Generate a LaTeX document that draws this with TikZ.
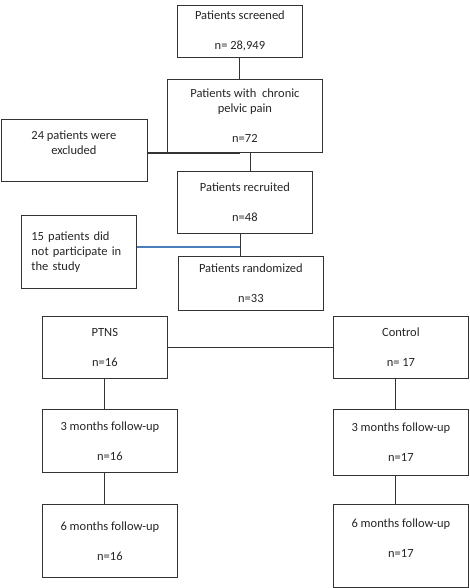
\documentclass[tikz,border=0pt]{standalone}
\usepackage{fontspec}
\setmainfont{Carlito}
\usepackage{tikz}
\definecolor{lineColor}{HTML}{333333}
\definecolor{blueLine}{HTML}{4A7EBB}
\tikzstyle{line} = [draw=lineColor, line width=0.9pt]
\tikzstyle{bline} = [draw=blueLine, line width=1.6pt]

\begin{document}
\begin{tikzpicture}[
    x=1pt, y=-1pt,
    box/.style={draw=lineColor, rectangle, line width=0.8pt, anchor=north west, align=center, inner sep=2pt, text=black!85, font=\fontsize{12.5}{15}\selectfont},
    note/.style={box, align=left, text width=95pt}
]
\path[fill=white, use as bounding box] (0,0) rectangle (470,588);

% Screening
\node[box, minimum width=125, minimum height=52] (screen) at (177,5) {Patients screened\\~\\n= 28,949};
\node[box, minimum width=155, minimum height=73] (chronic) at (167,79) {Patients with\ \ chronic\\pelvic pain\\~\\n=72};
\node[box, minimum width=146, minimum height=62] (excl) at (0.5,119) {24 patients were\\excluded\\~};

% Recruitment
\node[box, minimum width=135, minimum height=62] (recruit) at (177,171) {Patients recruited\\~\\n=48};
\node[note, minimum width=115, minimum height=73] (nopart) at (21,215) {15 patients did\\not participate in\\the study};
\node[box, minimum width=145, minimum height=54] (random) at (178,256) {Patients randomized\\~\\n=33};

% Groups
\node[box, minimum width=125, minimum height=62] (ptns) at (42,316) {PTNS\\~\\n=16};
\node[box, minimum width=135, minimum height=62] (ctrl) at (333,316) {Control\\~\\n= 17};

% Follow-up
\node[box, minimum width=135, minimum height=63] (p3) at (42,409) {3 months follow-up\\~\\n=16};
\node[box, minimum width=135, minimum height=66] (c3) at (333,409) {3 months follow-up\\~\\n=17};
\node[box, minimum width=135, minimum height=73] (p6) at (42,504) {6 months follow-up\\~\\n=16};
\node[box, minimum width=135, minimum height=83] (c6) at (333,504) {6 months follow-up\\~\\n=17\\~};

% Draw lines
\coordinate (join) at (240,247);
\draw[line] (screen) -- (screen |- chronic.north);
\draw[line, line width=1.6pt] (excl.east |- chronic.south) -- (screen |- chronic.south);
\draw[line] ([xshift=5.5pt]chronic.south) -- ([xshift=5.5pt]recruit.north);
\draw[line] (recruit.south -| join) -- (random.north -| join);
\draw[bline] (nopart.east |- join) -- (join);
\draw[line] (ptns) -- (ctrl);
\draw[line] (ptns.south) -- (ptns.south |- p3.north);
\draw[line] (ptns.south |- p3.south) -- (ptns.south |- p6.north);
\draw[line] ([xshift=-5.5pt]ctrl.south) -- ([xshift=-5.5pt]c3.north);
\draw[line] ([xshift=-5.5pt]c3.south) -- ([xshift=-5.5pt]c6.north);
\end{tikzpicture}
\end{document}
